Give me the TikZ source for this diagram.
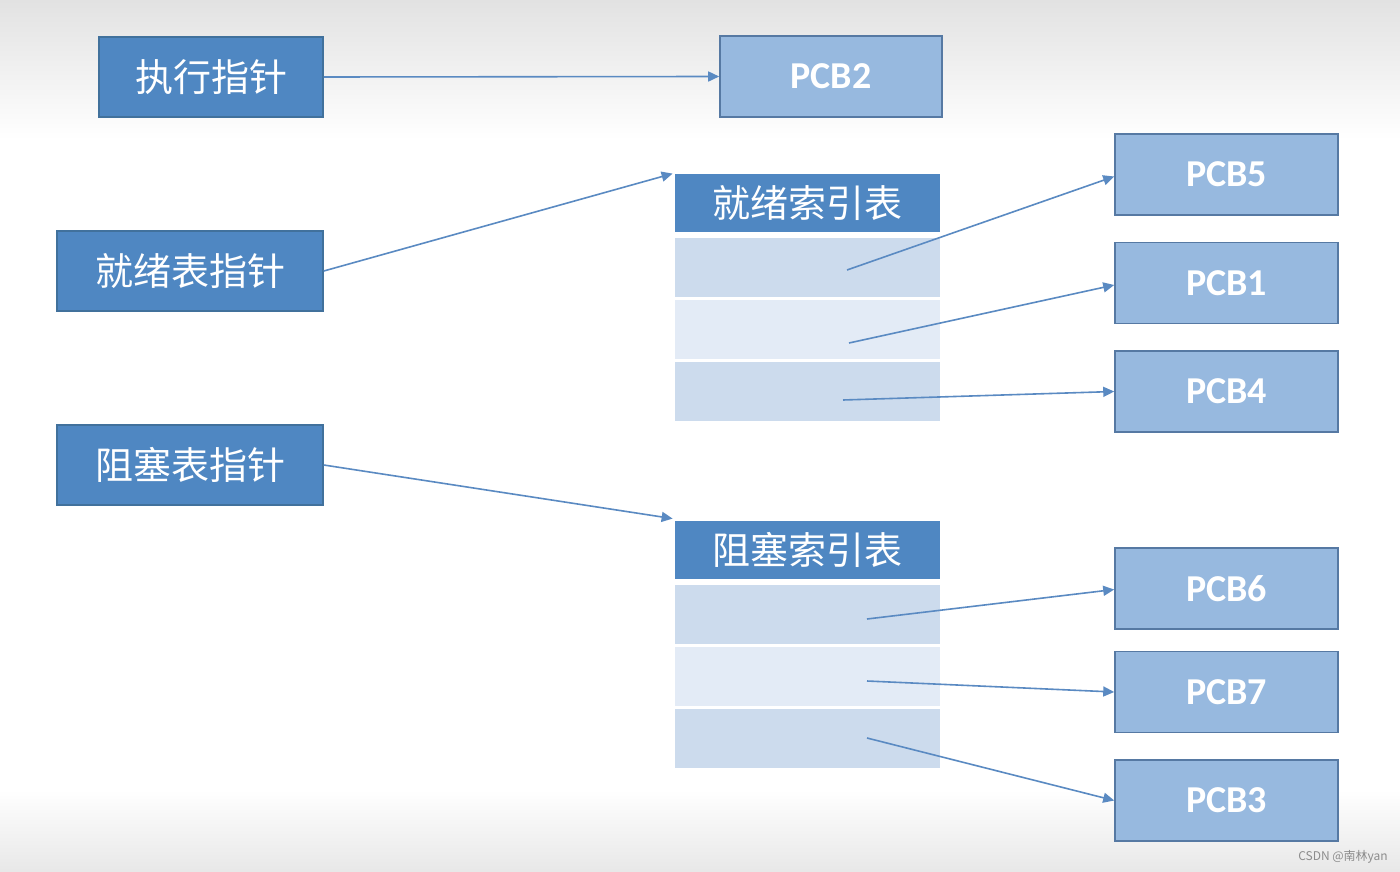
\documentclass[tikz,border=0pt]{standalone}
\usepackage{fontspec}
\setmainfont{Carlito}
\newfontfamily\cjk{Noto Sans CJK SC}
\usetikzlibrary{arrows.meta}
\definecolor{darkbox}{HTML}{4F87C2}
\definecolor{darkedge}{HTML}{41719C}
\definecolor{lightbox}{HTML}{97B9DF}
\definecolor{lightedge}{HTML}{5679A3}
\definecolor{rowA}{HTML}{CCDBED}
\definecolor{rowB}{HTML}{E3EBF6}
\definecolor{arrowc}{HTML}{5A8AC2}
\definecolor{topgray}{HTML}{E2E2E2}
\tikzset{
  ptr/.style={draw=darkedge, line width=0.8pt, fill=darkbox, text=white,
    font=\cjk\fontsize{19pt}{22pt}\selectfont, inner sep=0pt,
    minimum height=40pt},
  pcb/.style={draw=lightedge, line width=0.8pt, fill=lightbox, text=white,
    font=\bfseries\fontsize{19pt}{23pt}\selectfont, inner sep=0pt,
    minimum width=111.5pt, minimum height=40.5pt},
  head/.style={fill=darkbox, text=white, font=\cjk\fontsize{19pt}{22pt}\selectfont,
    inner sep=0pt, minimum width=132.5pt, minimum height=29pt},
  rowa/.style={fill=rowA, inner sep=0pt, minimum width=132.5pt, minimum height=29.5pt},
  rowb/.style={fill=rowB, inner sep=0pt, minimum width=132.5pt, minimum height=29.5pt},
  link/.style={draw=arrowc, line width=0.8pt, -{Triangle[length=5.5pt,width=5pt]}}
}
\begin{document}
\begin{tikzpicture}[x=0.5pt,y=-0.5pt]
\useasboundingbox (0,0) rectangle (1400,871);
% background
\fill[white] (0,0) rectangle (1400,871);
\shade[top color=topgray, bottom color=white] (0,0) rectangle (1400,140);
\shade[top color=white, bottom color=topgray!80] (0,790) rectangle (1400,871);

% pointer boxes
\node[ptr, minimum width=112pt] (exec) at (211,77) {执行指针};
\node[ptr, minimum width=133pt] (ready) at (190,271) {就绪表指针};
\node[ptr, minimum width=133pt] (block) at (190,465) {阻塞表指针};

% PCB2
\node[pcb, minimum width=111pt] (pcb2) at (831,76.5) {PCB2};

% ready index table
\node[head] (rh) at (807.5,203) {就绪索引表};
\node[rowa] (r1) at (807.5,267.5) {};
\node[rowb] (r2) at (807.5,329.5) {};
\node[rowa] (r3) at (807.5,391.5) {};

% blocked index table
\node[head] (bh) at (807.5,550) {阻塞索引表};
\node[rowa] (b1) at (807.5,614) {};
\node[rowb] (b2) at (807.5,676.5) {};
\node[rowa] (b3) at (807.5,738.5) {};

% PCB boxes
\node[pcb] (pcb5) at (1226.5,174.5) {PCB5};
\node[pcb] (pcb1) at (1226.5,283) {PCB1};
\node[pcb] (pcb4) at (1226.5,391.5) {PCB4};
\node[pcb] (pcb6) at (1226.5,588.5) {PCB6};
\node[pcb] (pcb7) at (1226.5,692) {PCB7};
\node[pcb] (pcb3) at (1226.5,800.5) {PCB3};

% start points inside rows
\coordinate (r1s) at (847,270);
\coordinate (r2s) at (849,343);
\coordinate (r3s) at (843,400);
\coordinate (b1s) at (867,619);
\coordinate (b2s) at (867,681);
\coordinate (b3s) at (867,738);

% connectors
\draw[link] (exec.east) -- (pcb2.west);
\draw[link] (ready.east) -- ([xshift=-1pt]rh.north west);
\draw[link] (block.east) -- ([xshift=-1pt,yshift=1pt]bh.north west);
\draw[link] (r1s) -- ([yshift=-1pt]pcb5.west);
\draw[link] (r2s) -- ([yshift=-1pt]pcb1.west);
\draw[link] (r3s) -- (pcb4.west);
\draw[link] (b1s) -- ([yshift=-0.5pt]pcb6.west);
\draw[link] (b2s) -- (pcb7.west);
\draw[link] (b3s) -- (pcb3.west);

% watermark
\node[text=black!45, font=\cjk\fontsize{6pt}{7pt}\selectfont, inner sep=0pt] (wm) at (1343,857) {CSDN @南林yan};
\end{tikzpicture}
\end{document}
